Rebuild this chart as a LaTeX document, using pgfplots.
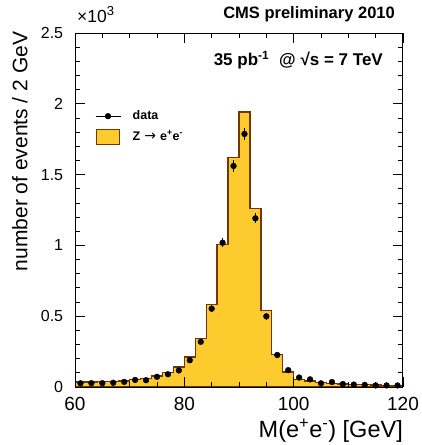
\documentclass[border=0pt]{standalone}
\usepackage{fontspec}
\setmainfont{Liberation Sans}
\newfontfamily\symfont{DejaVu Sans}
\usepackage{pgfplots}
\pgfplotsset{compat=1.18}
\definecolor{zfill}{RGB}{254,203,47}
\definecolor{zline}{RGB}{112,56,0}

\begin{document}
\begin{tikzpicture}
\begin{axis}[
    at={(75pt,58pt)}, anchor=south west,
    width=328pt, height=354pt, scale only axis,
    xmin=60, xmax=120, ymin=0, ymax=2500,
    xtick={60,80,100,120}, minor x tick num=3,
    xticklabels={60,80,100,120},
    ytick={0,500,1000,1500,2000,2500}, minor y tick num=4,
    yticklabels={0,0.5,1,1.5,2,2.5},
    scaled y ticks=false,
    tick align=inside, tick pos=both,
    major tick length=10pt, minor tick length=5pt,
    every tick/.style={black, line width=0.8pt},
    axis line style={line width=1pt},
    axis on top,
    xticklabel style={font=\fontsize{19}{19}\selectfont, anchor=base, inner sep=0pt, yshift=-23.3pt},
    yticklabel style={font=\fontsize{16}{16}\selectfont, anchor=east, inner sep=0pt, xshift=-11.7pt},
    reverse legend,
    legend cell align=left,
    legend style={at={(0.061,0.782)}, anchor=north west, draw=none, fill=none,
        inner sep=0pt, outer sep=0pt, row sep=7pt,
        font=\bfseries\fontsize{12.5}{12.5}\selectfont,
        nodes={inner sep=0pt, text height=9pt, text depth=3pt},
        /tikz/every odd column/.append style={column sep=11.7pt}},
]
% Z -> ee simulation, 2 GeV bins from 60 to 120
\addplot[const plot, fill=zfill, draw=zline, line width=1.3pt,
    legend image code/.code={\draw[fill=zfill, draw=zline, line width=0.8pt] (-11.5pt,-7.5pt) rectangle (11.5pt,7.5pt);}]
coordinates {
    (60,36) (62,36) (64,37) (66,38) (68,43) (70,52) (72,60) (74,78)
    (76,100) (78,141) (80,212) (82,342) (84,585) (86,1008) (88,1622)
    (90,1942) (92,1262) (94,540) (96,230) (98,106) (100,55) (102,42)
    (104,32) (106,26) (108,21) (110,19) (112,16) (114,14) (116,12)
    (118,12) (120,12)
} \closedcycle;
\addlegendentry{Z\hspace{4pt}{\mdseries\symfont\fontsize{14}{14}\selectfont →}\hspace{4pt}e\textsuperscript{+}e\textsuperscript{-}}
% data with statistical errors
\addplot[only marks, mark=*, mark size=2.9pt, black,
    legend image code/.code={\draw[black, line width=1pt] (-12.5pt,0pt) -- (12.5pt,0pt); \fill[black] (0pt,0pt) circle (2.9pt);},
    error bars/.cd, y dir=both, y explicit,
    error bar style={line width=1pt, black}, error mark=none]
coordinates {
    (61,26) +- (0,5.1)   (63,27) +- (0,5.2)   (65,27) +- (0,5.2)
    (67,30) +- (0,5.5)   (69,36) +- (0,6.0)   (71,50) +- (0,7.1)
    (73,48) +- (0,6.9)   (75,72) +- (0,8.5)   (77,90) +- (0,9.5)
    (79,117) +- (0,10.8) (81,189) +- (0,13.7) (83,319) +- (0,17.9)
    (85,553) +- (0,23.5) (87,1019) +- (0,31.9) (89,1561) +- (0,39.5)
    (91,1787) +- (0,42.3) (93,1191) +- (0,34.5) (95,499) +- (0,22.3)
    (97,226) +- (0,15.0) (99,119) +- (0,10.9) (101,67) +- (0,8.2)
    (103,54) +- (0,7.3)  (105,26) +- (0,5.1)  (107,35) +- (0,5.9)
    (109,21) +- (0,4.6)  (111,17) +- (0,4.1)  (113,15) +- (0,3.9)
    (115,11) +- (0,3.3)  (117,11) +- (0,3.3)  (119,11) +- (0,3.3)
};
\addlegendentry{data}
\end{axis}
\node[anchor=base east, inner sep=0pt, font=\bfseries\fontsize{16.5}{16.5}\selectfont] at (395pt,426pt) {CMS preliminary 2010};
\node[anchor=base east, inner sep=0pt, font=\bfseries\fontsize{17}{17}\selectfont] at (383pt,379pt) {35 pb\textsuperscript{-1}\hspace{10pt}@ √s = 7 TeV};
\node[anchor=base west, inner sep=0pt, font=\fontsize{17.5}{17.5}\selectfont] at (77pt,422pt) {×10\raisebox{0.42em}{\fontsize{13}{13}\selectfont 3}};
\node[anchor=base east, inner sep=0pt, font=\fontsize{23.5}{23.5}\selectfont] at (403pt,7pt) {M(e\textsuperscript{+}e\textsuperscript{-}) [GeV]};
\node[rotate=90, anchor=base east, inner sep=0pt, font=\fontsize{21}{21}\selectfont] at (27.5pt,413.3pt) {number of events / 2 GeV};
\pgfresetboundingbox
\path[use as bounding box] (0pt,0pt) rectangle (422pt,445pt);
\end{tikzpicture}
\end{document}
